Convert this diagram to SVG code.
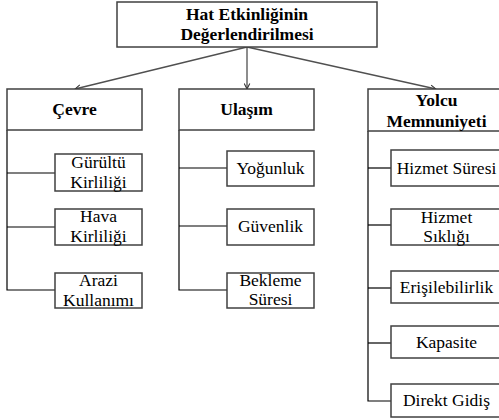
<svg xmlns="http://www.w3.org/2000/svg" width="499" height="420" viewBox="0 0 499 420">
<defs>
<style>
.box{fill:#fff;stroke:#404040;stroke-width:1.5}
text{font-family:'Liberation Serif','Times New Roman',serif;font-size:17.5px;fill:#000;text-anchor:middle}
.b{font-weight:bold}
.arr{stroke:#505050;stroke-width:1.3;fill:none;marker-end:url(#ah)}
.ln{stroke:#000;stroke-width:1.2;fill:none}
</style>
<marker id="ah" viewBox="0 0 10 10" refX="9" refY="5" markerWidth="7" markerHeight="7" orient="auto" markerUnits="userSpaceOnUse">
<path d="M1,1 L9,5 L1,9" fill="none" stroke="#303030" stroke-width="1.5"/>
</marker>
</defs>
<rect width="499" height="420" fill="#fff"/>
<g id="connectors">
<line class="arr" x1="247" y1="47" x2="75" y2="89"/>
<line class="arr" x1="247" y1="47" x2="247" y2="89"/>
<line class="arr" x1="247" y1="47" x2="436" y2="89"/>
<polyline class="ln" points="7,130 7,290 55,290"/>
<line class="ln" x1="7" y1="173" x2="55" y2="173"/>
<line class="ln" x1="7" y1="227" x2="55" y2="227"/>
<polyline class="ln" points="179,130 179,290 227,290"/>
<line class="ln" x1="179" y1="168" x2="227" y2="168"/>
<line class="ln" x1="179" y1="226" x2="227" y2="226"/>
<polyline class="ln" points="368,131 368,401 391,401"/>
<line class="ln" x1="368" y1="168" x2="391" y2="168"/>
<line class="ln" x1="368" y1="225" x2="391" y2="225"/>
<line class="ln" x1="368" y1="288" x2="391" y2="288"/>
<line class="ln" x1="368" y1="343" x2="391" y2="343"/>
</g>
<g id="root">
<rect class="box" x="117" y="2" width="260" height="45"/>
<text class="b" x="247" y="20">Hat Etkinliğinin</text>
<text class="b" x="247" y="40">Değerlendirilmesi</text>
</g>
<g id="cevre">
<rect class="box" x="7" y="89" width="135" height="41"/>
<text class="b" x="74.5" y="115">Çevre</text>
</g>
<g id="ulasim">
<rect class="box" x="179" y="89" width="135" height="41"/>
<text class="b" x="246.5" y="115">Ulaşım</text>
</g>
<g id="yolcu">
<rect class="box" x="368" y="89" width="137" height="42"/>
<text class="b" x="436.5" y="106">Yolcu</text>
<text class="b" x="436.5" y="127">Memnuniyeti</text>
</g>
<g id="gurultu">
<rect class="box" x="55" y="154" width="87" height="37"/>
<text x="98.5" y="168">Gürültü</text>
<text x="98.5" y="188">Kirliliği</text>
</g>
<g id="hava">
<rect class="box" x="55" y="209" width="87" height="36"/>
<text x="98.5" y="222">Hava</text>
<text x="98.5" y="242">Kirliliği</text>
</g>
<g id="arazi">
<rect class="box" x="55" y="273" width="87" height="35"/>
<text x="98.5" y="286">Arazi</text>
<text x="98.5" y="306">Kullanımı</text>
</g>
<g id="yogunluk">
<rect class="box" x="227" y="151" width="87" height="35"/>
<text x="270.5" y="174">Yoğunluk</text>
</g>
<g id="guvenlik">
<rect class="box" x="227" y="209" width="87" height="36"/>
<text x="270.5" y="232">Güvenlik</text>
</g>
<g id="bekleme">
<rect class="box" x="227" y="273" width="87" height="35"/>
<text x="270.5" y="286">Bekleme</text>
<text x="270.5" y="305">Süresi</text>
</g>
<g id="hizmetsuresi">
<rect class="box" x="391" y="150" width="112" height="36"/>
<text x="446.5" y="174">Hizmet Süresi</text>
</g>
<g id="hizmetsikligi">
<rect class="box" x="391" y="209" width="112" height="36"/>
<text x="446.5" y="223">Hizmet</text>
<text x="446.5" y="242">Sıklığı</text>
</g>
<g id="erisilebilirlik">
<rect class="box" x="391" y="271" width="112" height="32"/>
<text x="446.5" y="293">Erişilebilirlik</text>
</g>
<g id="kapasite">
<rect class="box" x="391" y="326" width="112" height="32"/>
<text x="446.5" y="348">Kapasite</text>
</g>
<g id="direkt">
<rect class="box" x="391" y="384" width="112" height="33"/>
<text x="446.5" y="406">Direkt Gidiş</text>
</g>
</svg>
